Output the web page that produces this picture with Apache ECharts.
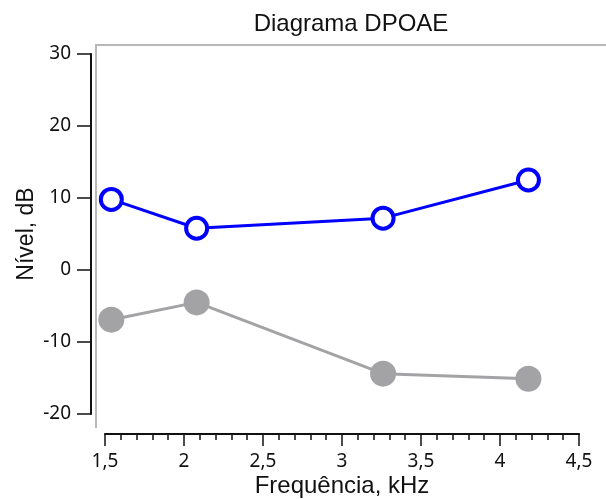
<!DOCTYPE html>
<html>
<head>
<meta charset="utf-8">
<title>Diagrama DPOAE</title>
<script src="https://cdn.jsdelivr.net/npm/echarts@6/dist/echarts.min.js"></script>
<style>
    html, body { margin: 0; padding: 0; background: #fff; }
    #chart { width: 606px; height: 499px; }
</style>
</head>
<body>
<div id="chart"></div>
<script>
// 频率 (kHz)
var freq = [1.54, 2.08, 3.26, 4.18];
// DP level (blue, open circles)
var dpLevel = [9.8, 5.8, 7.2, 12.5];
// noise floor (gray, filled circles)
var noiseLevel = [-6.9, -4.5, -14.4, -15.1];
// tick labels
var xTicks = [1.5, 2, 2.5, 3, 3.5, 4, 4.5];
var yTicks = [-20, -10, 0, 10, 20, 30];

var myChart;

function pairs(x, y) {
    var arr = [];
    for (var i = 0; i < x.length; i++) {
        arr.push([x[i], y[i]]);
    }
    return arr;
}

window.onload = function () {
    myChart = echarts.init(document.getElementById('chart'));

    var font = 'Liberation Sans, Arial, sans-serif';
    var tickFont = 'Noto Sans, Tahoma, sans-serif';

    var option = {
        animation: false,
        title: {
            text: 'Diagrama DPOAE',
            left: 346,
            top: 7,
            textAlign: 'center',
            textStyle: { fontFamily: font, fontSize: 24, fontWeight: 'normal', color: '#111' }
        },
        grid: {
            left: 105,
            right: 27,
            top: 54,
            bottom: 85,
            outerBoundsMode: 'none'
        },
        // gray frame of the plot box
        graphic: [{
            type: 'polyline',
            shape: { points: [[96, 428], [96, 45], [606, 45]] },
            style: { stroke: '#b8b8b8', lineWidth: 2, fill: null },
            silent: true
        }],
        xAxis: {
            type: 'value',
            min: xTicks[0],
            max: xTicks[xTicks.length - 1],
            interval: 0.5,
            offset: 20,
            name: 'Frequência, kHz',
            nameLocation: 'middle',
            nameGap: 40,
            nameMoveOverlap: false,
            nameTextStyle: { fontFamily: font, fontSize: 24, color: '#111' },
            axisLine: { show: true, onZero: false, lineStyle: { color: '#111', width: 2 } },
            axisTick: { show: true, length: 12, lineStyle: { color: '#111', width: 1.5 } },
            minorTick: { show: true, splitNumber: 5, length: 6, lineStyle: { color: '#111', width: 1.5 } },
            splitLine: { show: false },
            axisLabel: {
                margin: 18,
                fontFamily: tickFont,
                fontSize: 19,
                color: '#111',
                formatter: function (v) { return String(v).replace('.', ','); }
            }
        },
        yAxis: {
            type: 'value',
            min: yTicks[0],
            max: yTicks[yTicks.length - 1],
            interval: 10,
            offset: 14,
            name: 'Nível, dB',
            nameLocation: 'middle',
            nameGap: 53,
            nameMoveOverlap: false,
            nameTextStyle: { fontFamily: font, fontSize: 23, color: '#111' },
            axisLine: { show: true, onZero: false, lineStyle: { color: '#111', width: 2 } },
            axisTick: { show: true, length: 14, lineStyle: { color: '#111', width: 1.5 } },
            splitLine: { show: false },
            axisLabel: {
                margin: 20,
                fontFamily: tickFont,
                fontSize: 19,
                color: '#111'
            }
        },
        series: [{
            name: 'Ruído',
            type: 'line',
            clip: false,
            data: pairs(freq, noiseLevel),
            symbol: 'circle',
            symbolSize: 26,
            lineStyle: { color: '#a3a3a6', width: 3 },
            itemStyle: { color: '#a3a3a6', borderWidth: 0 },
            z: 2
        }, {
            name: 'DPOAE',
            type: 'line',
            clip: false,
            data: pairs(freq, dpLevel),
            symbol: 'circle',
            symbolSize: 21,
            lineStyle: { color: '#0000ff', width: 3 },
            itemStyle: { color: '#ffffff', borderColor: '#0000ff', borderWidth: 4 },
            z: 3
        }]
    };

    myChart.setOption(option);
};
</script>
</body>
</html>
